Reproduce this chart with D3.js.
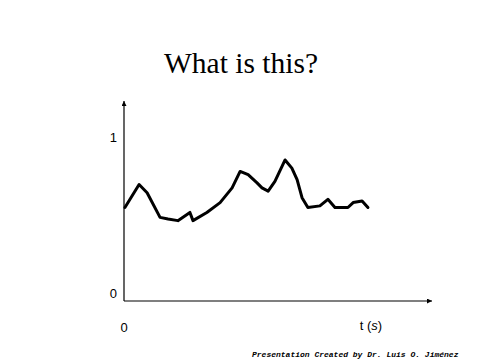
<!DOCTYPE html>
<html>
<head>
<meta charset="utf-8">
<script src="https://cdn.jsdelivr.net/npm/d3@7"></script>
<style>
	body { margin: 0; background: #fff; }
	svg { display: block; }
</style>
</head>
<body>
<div id="content"></div>
<script>
// time in seconds (arbitrary units) and signal value
var times = [0.03, 0.49, 0.75, 1.17, 1.43, 1.75, 2.14, 2.24, 2.69, 3.12, 3.51, 3.77, 4.03, 4.32, 4.48, 4.68,
	4.90, 5.23, 5.45, 5.62, 5.78, 5.97, 6.36, 6.62, 6.85, 7.27, 7.44, 7.73, 7.92];
var values = [0.57, 0.71, 0.66, 0.51, 0.50, 0.49, 0.54, 0.49, 0.54, 0.60, 0.69, 0.79, 0.77, 0.72, 0.69, 0.67,
	0.73, 0.86, 0.81, 0.74, 0.63, 0.57, 0.58, 0.62, 0.57, 0.57, 0.60, 0.61, 0.57];
var yTicks = [0, 1];
var xTicks = [0];

var title = "What is this?";
var xLabel = "t";
var xUnit = "s";
var credit = "Presentation Created by Dr. Luis O. Jiménez";

var width = 480, height = 360;

var svg = d3.select("#content").append("svg")
	.attr("width", width).attr("height", height);

var x = d3.scaleLinear().domain([0, 10]).range([124, 432]);
var y = d3.scaleLinear().domain([0, 1]).range([301, 137]);

svg.append("defs").append("marker")
	.attr("id", "arrow")
	.attr("viewBox", "0 0 10 10")
	.attr("refX", 10).attr("refY", 5)
	.attr("markerWidth", 5).attr("markerHeight", 5)
	.attr("markerUnits", "userSpaceOnUse")
	.attr("orient", "auto")
	.append("path").attr("d", "M0,0L10,5L0,10z").attr("fill", "#000");

// title
svg.append("text")
	.attr("x", 241).attr("y", 73)
	.attr("text-anchor", "middle")
	.style("font-family", "'Liberation Serif', 'Times New Roman', serif")
	.style("font-size", "29.5px")
	.text(title);

// axes
svg.append("line")
	.attr("x1", x(0)).attr("y1", y(0))
	.attr("x2", x(0)).attr("y2", 101)
	.attr("stroke", "#000").attr("stroke-width", 1.2)
	.attr("marker-end", "url(#arrow)");

svg.append("line")
	.attr("x1", x(0)).attr("y1", y(0))
	.attr("x2", x(10)).attr("y2", y(0))
	.attr("stroke", "#000").attr("stroke-width", 1.2)
	.attr("marker-end", "url(#arrow)");

// y labels
svg.selectAll("text.ytick").data(yTicks)
	.enter().append("text")
	.attr("class", "ytick")
	.attr("x", 117)
	.attr("y", function (d) { return d == 0 ? y(d) - 3 : y(d) + 5; })
	.attr("text-anchor", "end")
	.style("font-family", "'Liberation Sans', Arial, sans-serif")
	.style("font-size", "13px")
	.text(function (d) { return d; });

// x labels
svg.selectAll("text.xtick").data(xTicks)
	.enter().append("text")
	.attr("class", "xtick")
	.attr("x", function (d) { return x(d); })
	.attr("y", 332)
	.attr("text-anchor", "middle")
	.style("font-family", "'Liberation Sans', Arial, sans-serif")
	.style("font-size", "13px")
	.text(function (d) { return d; });

var xl = svg.append("text")
	.attr("x", 371).attr("y", 330)
	.attr("text-anchor", "middle")
	.style("font-family", "'Liberation Sans', Arial, sans-serif")
	.style("font-size", "13px");
xl.append("tspan").text(xLabel + " (");
xl.append("tspan").style("font-style", "italic").text(xUnit);
xl.append("tspan").text(")");

// signal
var line = d3.line()
	.x(function (d, i) { return x(times[i]); })
	.y(function (d) { return y(d); });

svg.append("path")
	.datum(values)
	.attr("d", line)
	.attr("fill", "none")
	.attr("stroke", "#000")
	.attr("stroke-width", 3)
	.attr("stroke-linejoin", "round")
	.attr("stroke-linecap", "round");

// credit
svg.append("text")
	.attr("x", 252).attr("y", 357)
	.style("font-family", "'Liberation Mono', 'Courier New', monospace")
	.style("font-size", "8px")
	.style("font-style", "italic")
	.style("font-weight", "bold")
	.text(credit);
</script>
</body>
</html>
